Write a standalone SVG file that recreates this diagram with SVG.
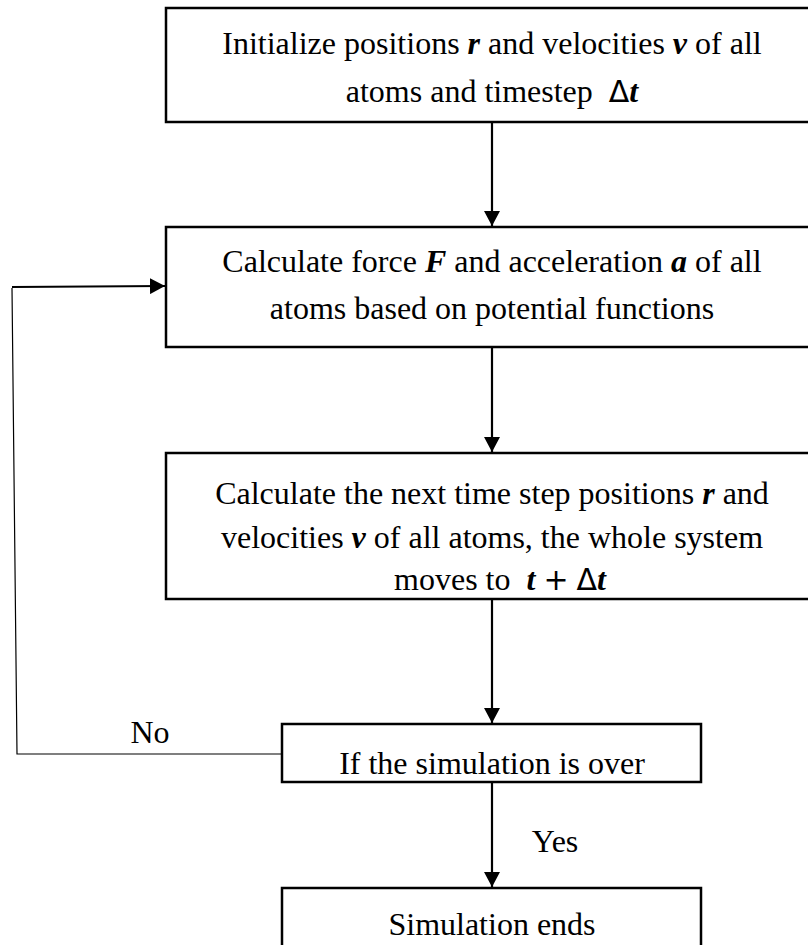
<svg xmlns="http://www.w3.org/2000/svg" width="808" height="945" viewBox="0 0 808 945">
<defs>
<style>
.box{fill:#fff;stroke:#000;stroke-width:2.5}
.t{font-family:"Liberation Serif","Times New Roman",serif;font-size:32px;fill:#000;text-anchor:middle}
.bi{font-weight:bold;font-style:italic}
.m{font-family:"DejaVu Sans","Liberation Sans",sans-serif;font-size:30px}
.c{stroke:#000;stroke-width:2.2;fill:none}
.thin{stroke:#000;stroke-width:1.2;fill:none}
</style>
<marker id="ah" markerWidth="15" markerHeight="16" refX="15" refY="8" orient="auto" markerUnits="userSpaceOnUse">
<path d="M0,0 L15,8 L0,16 Z" fill="#000"/>
</marker>
</defs>
<rect width="808" height="945" fill="#fff"/>
<g id="connectors">
<line class="c" x1="492" y1="122" x2="492" y2="226" marker-end="url(#ah)"/>
<line class="c" x1="492" y1="347" x2="492" y2="452" marker-end="url(#ah)"/>
<line class="c" x1="492" y1="599" x2="492" y2="723" marker-end="url(#ah)"/>
<line class="c" x1="492" y1="782" x2="492" y2="887" marker-end="url(#ah)"/>
<path class="thin" d="M282,754 L17,754 L12,288"/>
<line class="c" x1="12" y1="287" x2="165" y2="286" marker-end="url(#ah)"/>
<text class="t" x="150" y="743">No</text>
<text class="t" x="555" y="852">Yes</text>
</g>
<g id="n1">
<rect class="box" x="166" y="8" width="660" height="114"/>
<text class="t" x="492" y="54">Initialize positions <tspan class="bi">r</tspan> and velocities <tspan class="bi">v</tspan> of all</text>
<text class="t" x="492" y="102" xml:space="preserve">atoms and timestep  <tspan class="m">Δ</tspan><tspan class="bi">t</tspan></text>
</g>
<g id="n2">
<rect class="box" x="166" y="227" width="660" height="120"/>
<text class="t" x="492" y="272">Calculate force <tspan class="bi">F</tspan> and acceleration <tspan class="bi">a</tspan> of all</text>
<text class="t" x="492" y="319">atoms based on potential functions</text>
</g>
<g id="n3">
<rect class="box" x="166" y="453" width="660" height="146"/>
<text class="t" x="492" y="504">Calculate the next time step positions <tspan class="bi">r</tspan> and</text>
<text class="t" x="492" y="548">velocities <tspan class="bi">v</tspan> of all atoms, the whole system</text>
<text class="t" x="500" y="590" xml:space="preserve">moves to  <tspan class="bi">t</tspan> <tspan class="m">+</tspan> <tspan class="m">Δ</tspan><tspan class="bi">t</tspan></text>
</g>
<g id="n4">
<rect class="box" x="282" y="724" width="419" height="58"/>
<text class="t" x="492" y="774">If the simulation is over</text>
</g>
<g id="n5">
<rect class="box" x="282" y="888" width="419" height="80"/>
<text class="t" x="492" y="935">Simulation ends</text>
</g>
</svg>
